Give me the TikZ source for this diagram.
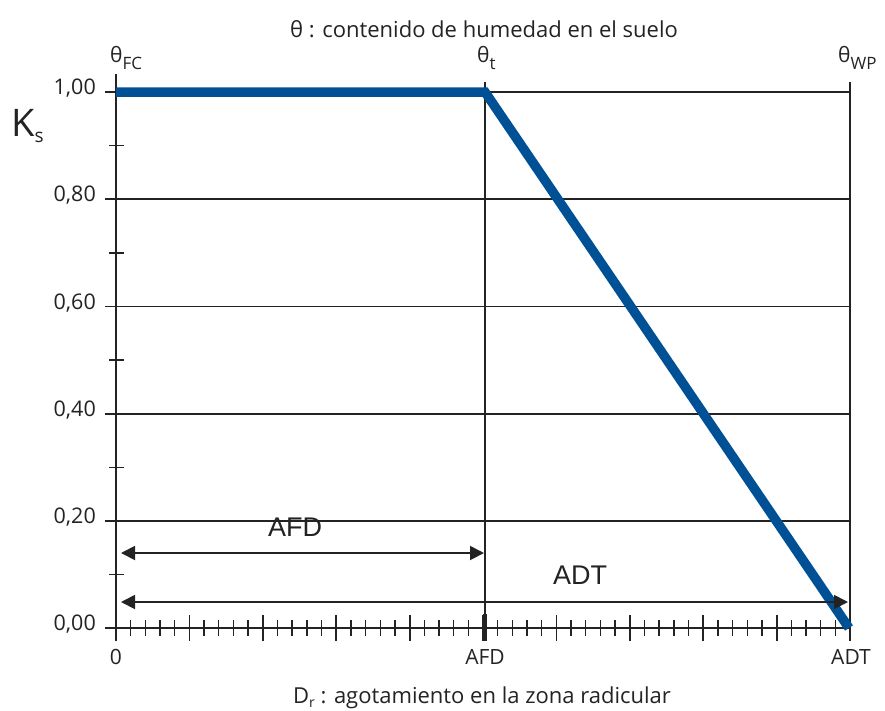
\documentclass[tikz,border=0pt]{standalone}
\usepackage{fontspec}
\setmainfont{Open Sans}
\newfontfamily\arialf{Liberation Sans}
\usetikzlibrary{arrows.meta}
\definecolor{ksblue}{RGB}{0,80,150}
\definecolor{gridc}{RGB}{35,35,35}
\begin{document}
\begin{tikzpicture}[x=1pt,y=-1pt,
  gridline/.style={draw=gridc,line width=1.8pt},
  axisline/.style={draw=gridc,line width=1.8pt},
  majtick/.style={draw=gridc,line width=1.8pt},
  mintick/.style={draw=gridc,line width=1.4pt},
  dimarrow/.style={draw=gridc,line width=1.8pt,{Triangle[length=14pt,width=14pt]}-{Triangle[length=14pt,width=14pt]}},
  lab/.style={font=\fontsize{21}{24}\selectfont,inner sep=0pt,text=gridc},
  ttl/.style={font=\fontsize{22}{25}\selectfont,inner sep=0pt,text=gridc,anchor=base},
  ylab/.style={font=\fontsize{21.5}{24}\selectfont,inner sep=0pt,text=gridc,anchor=mid east},
  biglab/.style={font=\arialf\fontsize{27}{30}\selectfont,inner sep=0pt,text=gridc},
  curve/.style={draw=ksblue,line width=9.5pt,line join=miter}]
\useasboundingbox (0,0) rectangle (885,710);
% coordinates
\coordinate (Otop) at (116,74);
\coordinate (Obot) at (116,641);
\coordinate (Tt) at (485,82);
\coordinate (Tb) at (485,641);
\coordinate (Wt) at (850,82);
\coordinate (Wb) at (850,641);
% horizontal grid lines
\foreach \v/\t [count=\i] in {1/{1,00},0.8/{0,80},0.6/{0,60},0.4/{0,40},0.2/{0,20}} {
  \coordinate (gl\i) at (105,{628-536*\v});
  \coordinate (gr\i) at (850,{628-536*\v});
  \draw[gridline] (gl\i) -- (gr\i);
  \node[ylab] (yl\i) at (96,{628-536*\v}) {\t};
}
\node[ylab] (yl0) at (96,628) {0,00};
% minor y ticks
\foreach \v [count=\i] in {0.9,0.7,0.5,0.3,0.1} {
  \coordinate (ma\i) at (109,{628-536*\v});
  \coordinate (mb\i) at (124,{628-536*\v});
  \draw[mintick] (ma\i) -- (mb\i);
}
% axes
\coordinate (xl) at (105,628);
\coordinate (xr) at (850,628);
\draw[axisline] (Otop) -- (Obot);
\draw[axisline] (xl) -- (xr);
\draw[gridline] (Tt) -- (Tb);
\draw[gridline] (Wt) -- (Wb);
% x ticks
\foreach \k in {0,...,50} {
  \pgfmathsetmacro{\xx}{116+\k*14.68}
  \pgfmathtruncatemacro{\r}{mod(\k,5)}
  \ifnum\r=0
    \draw[majtick] (\xx,615) -- (\xx,641);
  \else
    \draw[mintick] (\xx,620) -- (\xx,636);
  \fi
}
\draw[draw=gridc,line width=4pt] (485,614) -- (Tb);
% curve
\coordinate (A) at (116,92);
\coordinate (B) at (485,92);
\coordinate (C) at (849,628);
\draw[curve] (A) -- (B) -- (C);
% dimension arrows
\coordinate (a1) at (121,553);
\coordinate (a2) at (484,553);
\coordinate (b1) at (121,602);
\coordinate (b2) at (848,602);
\draw[dimarrow] (a1) -- (a2);
\draw[dimarrow] (b1) -- (b2);
\node[biglab] (afdl) at (295,527) {AFD};
\node[biglab] (adtl) at (580,575) {ADT};
% x labels
\node[lab,anchor=base] (x0) at (116,664) {0};
\node[lab,anchor=base] (x1) at (485,664) {AFD};
\node[lab,anchor=base] (x2) at (851,664) {ADT};
% top labels
\node[lab,anchor=base west] (thfc) at (110,62) {θ\raisebox{-7pt}{\fontsize{17}{17}\selectfont FC}};
\node[lab,anchor=base west] (tht) at (477,62) {θ\raisebox{-7pt}{\fontsize{17}{17}\selectfont t}};
\node[lab,anchor=base west] (thwp) at (838,62) {θ\raisebox{-7pt}{\fontsize{17}{17}\selectfont WP}};
% axis titles
\node[ttl] (title) at (484,37) {θ : contenido de humedad en el suelo};
\node[ttl] (xtitle) at (482,703) {D\raisebox{-4pt}{\fontsize{14}{14}\selectfont r} : agotamiento en la zona radicular};
\node[inner sep=0pt,anchor=base west,text=gridc,font=\fontsize{38}{40}\selectfont] (ks) at (11,136) {K\raisebox{-6pt}{\fontsize{19}{19}\selectfont s}};
\end{tikzpicture}
\end{document}
